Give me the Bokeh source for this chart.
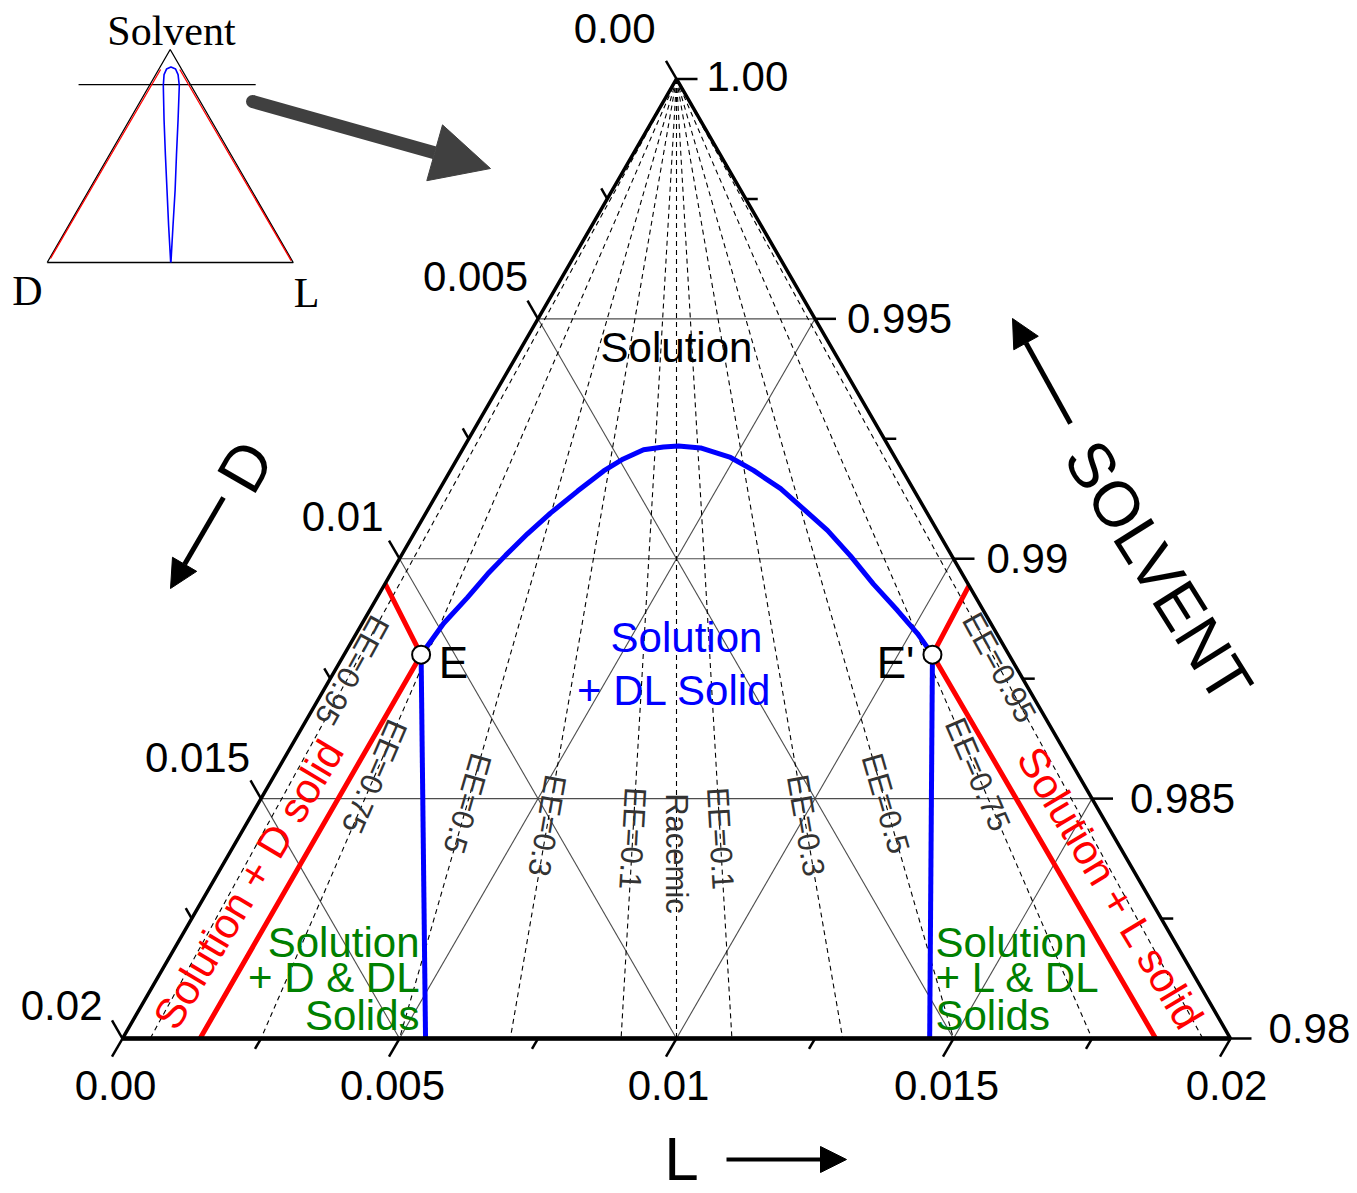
import numpy as np
from bokeh.plotting import figure
from bokeh.models import Range1d, Arrow, NormalHead
from bokeh.core.properties import value
from bokeh.embed import file_html
from bokeh.resources import INLINE

# ---------------- data ----------------
S_BASE = 0.98          # solvent fraction on the base of the zoomed triangle
SPAN = 0.02            # composition span of the zoomed triangle

axis_major = [0.0, 0.005, 0.01, 0.015, 0.02]
axis_minor = [0.0025, 0.0075, 0.0125, 0.0175]
bottom_tick_labels = ["0.00", "0.005", "0.01", "0.015", "0.02"]      # L
right_tick_labels = ["0.98", "0.985", "0.99", "0.995", "1.00"]       # Solvent
left_tick_labels = ["0.00", "0.005", "0.01", "0.015", "0.02"]        # D
grid_vals = [0.005, 0.01, 0.015]

ee_values = [-0.95, -0.75, -0.5, -0.3, -0.1, 0.0, 0.1, 0.3, 0.5, 0.75, 0.95]
ee_names = ["EE=0.95", "EE=0.75", "EE=0.5", "EE=0.3", "EE=0.1", "Racemic",
            "EE=0.1", "EE=0.3", "EE=0.5", "EE=0.75", "EE=0.95"]

# solubility curve of the DL compound (mass fractions)
curve_D = [0.01061, 0.00988, 0.00918, 0.00857, 0.00805, 0.00743, 0.00680, 0.00608,
           0.00540, 0.00492, 0.00446, 0.00407, 0.00379, 0.00341, 0.00297, 0.00269,
           0.00239, 0.00219, 0.00198, 0.00183, 0.00171, 0.00155, 0.00143, 0.00138]
curve_L = [0.00139, 0.00147, 0.00163, 0.00175, 0.00188, 0.00205, 0.00225, 0.00251,
           0.00277, 0.00300, 0.00327, 0.00360, 0.00386, 0.00428, 0.00492, 0.00547,
           0.00615, 0.00677, 0.00743, 0.00811, 0.00882, 0.00953, 0.01013, 0.01062]

# eutectic points E and E'
eut_D = [0.01061, 0.00138]
eut_L = [0.00139, 0.01062]

# D-solid and L-solid boundaries (red)
redL_D = [0.01052, 0.01061, 0.01860]
redL_L = [0.00000, 0.00139, 0.00140]
redR_D = [0.00000, 0.00138, 0.00135]
redR_L = [0.01056, 0.01062, 0.01865]

# tie lines to the DL solid (blue)
tieL_D = [0.01061, 0.01453]
tieL_L = [0.00139, 0.00547]
tieR_D = [0.00138, 0.00543]
tieR_L = [0.01062, 0.01457]

# inset: full ternary diagram (fractions L, S)
inset_loop_L = [0.502, 0.406, 0.317, 0.228, 0.140, 0.057, 0.034, 0.031, 0.044,
                0.068, 0.091, 0.122, 0.197, 0.273, 0.350, 0.424, 0.503]
inset_loop_S = [0.000, 0.175, 0.340, 0.505, 0.670, 0.830, 0.882, 0.908, 0.918,
                0.908, 0.882, 0.830, 0.670, 0.505, 0.340, 0.175, 0.000]
inset_redL_L = [0.008, 0.004]
inset_redL_S = [0.906, 0.019]
inset_redR_L = [0.086, 0.987]
inset_redR_S = [0.906, 0.009]
inset_cut_L = [-0.29, 0.43]
inset_cut_S = [0.835, 0.835]

# ---------------- layout ----------------
SCALE = 55400.0            # screen px per composition unit
OX, OY = 122.0, 1038.0     # page position of the D corner of the main triangle
FIG_W, FIG_H, MARGIN = 1357, 1193, 0
R3 = np.sqrt(3) / 2
FONT = value("Liberation Sans")


def tern(D, L):
    D = np.asarray(D, dtype=float)
    L = np.asarray(L, dtype=float)
    h = SPAN - D - L          # = S - S_BASE
    return L + h / 2, h * R3


def px(xi, yi):
    return (xi - OX) / SCALE, (OY - yi) / SCALE


I_OX, I_OY = px(46.7, 262)
I_SC = 246.0 / SCALE


def inset(L, S):
    L = np.asarray(L, dtype=float)
    S = np.asarray(S, dtype=float)
    return I_OX + I_SC * (L + S / 2), I_OY + I_SC * S * R3


p = figure(width=FIG_W, height=FIG_H,
           x_range=Range1d((MARGIN - OX) / SCALE, (MARGIN + FIG_W - OX) / SCALE),
           y_range=Range1d((OY - MARGIN - FIG_H) / SCALE, (OY - MARGIN) / SCALE),
           x_axis_type=None, y_axis_type=None, output_backend="svg",
           toolbar_location=None, min_border=0, outline_line_color=None)
p.grid.visible = False

# ---- grid lines ----
gx, gy = [], []
for g in grid_vals:
    a = tern([SPAN - g, 0], [0, SPAN - g])          # constant solvent
    b = tern([g, g], [0, SPAN - g])                  # constant D
    c = tern([SPAN - g, 0], [g, g])                  # constant L
    for xx, yy in (a, b, c):
        gx.append(list(xx))
        gy.append(list(yy))
p.multi_line(gx, gy, line_color="#4d4d4d", line_width=1.1)

# ---- EE lines ----
ex, ey = [], []
for ee in ee_values:
    lb = SPAN * (1 + ee) / 2
    xx, yy = tern([0, SPAN - lb], [0, lb])
    ex.append(list(xx))
    ey.append(list(yy))
p.multi_line(ex, ey, line_color="black", line_width=1.1, line_dash="5 4")

# EE labels placed on their lines
ee_label_y = [670, 776, 803, 825, 838, 853, 838, 825, 803, 774, 667]
lx, ly, la = [], [], []
for ee, yi in zip(ee_values, ee_label_y):
    h = (OY - yi) / SCALE / R3
    L = (SPAN - h) * (1 + ee) / 2
    D = SPAN - h - L
    xx, yy = tern(D, L)
    lx.append(float(xx))
    ly.append(float(yy))
    lb = SPAN * (1 + ee) / 2
    la.append(np.arctan2(-SPAN * R3, lb - SPAN / 2))
p.text(lx, ly, text=ee_names, angle=la, text_font=FONT, text_font_size="31px",
       text_color="#333333", text_align="center", text_baseline="middle")

# ---- phase boundaries ----
cx, cy = tern(curve_D, curve_L)
p.line(cx, cy, line_color="#0000ff", line_width=5)
for D, L in ((tieL_D, tieL_L), (tieR_D, tieR_L)):
    xx, yy = tern(D, L)
    p.line(xx, yy, line_color="#0000ff", line_width=5)
for D, L in ((redL_D, redL_L), (redR_D, redR_L)):
    xx, yy = tern(D, L)
    p.line(xx, yy, line_color="#ff0000", line_width=5)

# ---- triangle ----
tx, ty = tern([SPAN, 0, 0, SPAN], [0, 0, SPAN, 0])
p.line(tx[:3], ty[:3], line_color="black", line_width=3.5)
p.line(tx[2:], ty[2:], line_color="black", line_width=3.5)
p.line([tx[0], tx[2]], [ty[0], ty[2]], line_color="black", line_width=4.5)

# ---- ticks ----
MAJ, MIN = 21 / SCALE, 12 / SCALE
x0, y0, x1, y1 = [], [], [], []
for vals, ln in ((axis_major, MAJ), (axis_minor, MIN)):
    for v in vals:
        # bottom axis (L), ticks parallel to the left side
        bx, by = tern(SPAN - v, v)
        x0.append(float(bx)); y0.append(float(by))
        x1.append(float(bx) - 0.5 * ln); y1.append(float(by) - R3 * ln)
        # right axis (solvent), horizontal ticks
        rx, ry = tern(0, SPAN - v)
        x0.append(float(rx)); y0.append(float(ry))
        x1.append(float(rx) + ln); y1.append(float(ry))
        # left axis (D), ticks parallel to the right side
        qx, qy = tern(v, 0)
        x0.append(float(qx)); y0.append(float(qy))
        x1.append(float(qx) - 0.5 * ln); y1.append(float(qy) + R3 * ln)
p.segment(x0, y0, x1, y1, line_color="black", line_width=2.5)

# ---- tick labels ----
bx, by = tern([SPAN - v for v in axis_major], axis_major)
p.text(bx, by, text=bottom_tick_labels, x_offset=[-7, -7, -8, -7, -4], y_offset=47,
       text_font=FONT, text_font_size="42px", text_align="center",
       text_baseline="middle")
rx, ry = tern([0] * 5, [SPAN - v for v in axis_major])
p.text(rx, ry, text=right_tick_labels, x_offset=[38, 38, 33, 32, 30],
       y_offset=[-10, 0, 0, 0, -2], text_font=FONT, text_font_size="42px",
       text_align="left", text_baseline="middle")
qx, qy = tern(axis_major, [0] * 5)
p.text(qx, qy, text=left_tick_labels, x_offset=[-21, -10, -16, -11, -20],
       y_offset=[-50, -42, -42, -41, -33], text_font=FONT, text_font_size="42px",
       text_align="right", text_baseline="middle")

# ---- eutectic markers ----
mx, my = tern(eut_D, eut_L)
p.scatter(mx, my, size=18, marker="circle", fill_color="white",
          line_color="black", line_width=2)


def label(xi, yi, txt, size="42px", color="black", align="center", angle=0.0,
          font=FONT):
    x, y = px(xi, yi)
    p.text([x], [y], text=[txt], angle=angle, text_font=font, text_font_size=size,
           text_color=color, text_align=align, text_baseline="middle")


label(676, 347, "Solution")
label(686, 637, "Solution", color="#0000ff")
label(674, 690, "+ DL Solid", color="#0000ff")
label(453, 662, "E", size="44px")
label(895, 662, "E'", size="44px")
GREEN = "#008000"
for yi, t in zip([942, 977, 1015], ["Solution", "+ D & DL", "Solids"]):
    label(419, yi, t, color=GREEN, align="right")
for yi, t in zip([942, 977, 1015], ["Solution", "+ L & DL", "Solids"]):
    label(935, yi, t, color=GREEN, align="left")
label(248, 884, "Solution + D solid", color="#ff0000", angle=np.radians(59))
label(1110, 888, "Solution + L solid", color="#ff0000", angle=np.radians(-59))

# axis titles with arrows
label(681, 1158, "L", size="62px")
label(245, 466, "D", size="64px", angle=np.radians(60))
label(1158, 571, "SOLVENT", size="64px", angle=np.radians(-58))


def arrow(a, b, width, head, color="black"):
    xa, ya = px(*a)
    xb, yb = px(*b)
    p.add_layout(Arrow(end=NormalHead(size=head, fill_color=color, line_color=color,
                                      line_join="round"),
                       x_start=xa, y_start=ya, x_end=xb, y_end=yb,
                       line_width=width, line_color=color, line_cap="butt"))


arrow((726, 1159), (846, 1159), 4, 26)
arrow((223, 497), (170, 588), 5, 28)
arrow((1070, 423), (1012, 318), 5, 28)
arrow((252, 101), (490, 168), 13, 58, color="#404040")
sx, sy = px(252, 101)
p.scatter([sx], [sy], size=13, marker="circle", fill_color="#404040",
          line_color=None)

# ---- inset ----
ix, iy = inset([0, 1, 0, 0], [0, 0, 1, 0])
p.line(ix, iy, line_color="black", line_width=1.3)
xx, yy = inset(inset_cut_L, inset_cut_S)
p.line(xx, yy, line_color="black", line_width=1.3)
for Ls, Ss in ((inset_redL_L, inset_redL_S), (inset_redR_L, inset_redR_S)):
    xx, yy = inset(Ls, Ss)
    p.line(xx, yy, line_color="#ff0000", line_width=1.3)
xx, yy = inset(inset_loop_L, inset_loop_S)
p.line(xx, yy, line_color="#0000ff", line_width=1.6)
SERIF = value("Liberation Serif")
label(171, 30, "Solvent", size="42px", font=SERIF)
label(27, 290, "D", size="42px", font=SERIF)
label(306, 292, "L", size="42px", font=SERIF)

open("out.html", "w").write(file_html(p, INLINE))
